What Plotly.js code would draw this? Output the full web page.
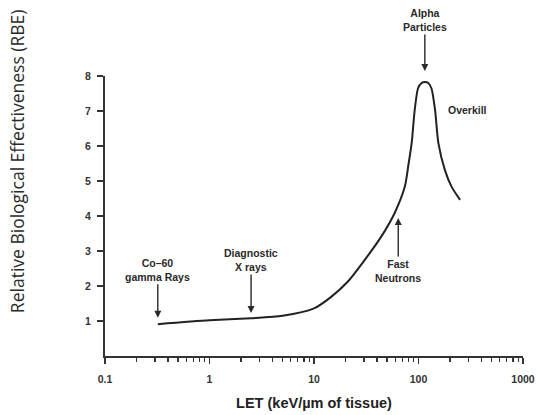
<!DOCTYPE html>
<html>
<head>
<meta charset="utf-8">
<script src="https://cdn.plot.ly/plotly-3.0.1.min.js"></script>
<style>html,body{margin:0;padding:0;background:#fff;}#chart{width:537px;height:415px;}</style>
</head>
<body>
<div id="chart"></div>
<script>
// LET (keV/µm) vs RBE curve
const letValues = [0.32, 1, 2.5, 5, 10, 14.6, 21, 30.5, 44, 59, 74, 80, 86, 92, 99, 107, 115, 124, 133, 144, 155, 179, 207, 250];
const rbeValues = [0.91, 1.02, 1.08, 1.15, 1.36, 1.69, 2.12, 2.74, 3.41, 4.08, 4.84, 5.45, 6.08, 7.03, 7.65, 7.8, 7.83, 7.8, 7.65, 7.03, 6.08, 5.31, 4.84, 4.46];

const xTickVals = [0.1, 1, 10, 100, 1000];
const xTickText = ['0.1', '1', '10', '100', '1000'];
const xMinorVals = [0.2,0.3,0.4,0.5,0.6,0.7,0.8,0.9, 2,3,4,5,6,7,8,9, 20,30,40,50,60,70,80,90, 200,300,400,500,600,700,800,900];
const yTickVals = [1, 2, 3, 4, 5, 6, 7, 8];

// annotation labels with arrows
const labelTexts = ['Co–60<br>gamma Rays', 'Diagnostic<br>X rays', 'Fast<br>Neutrons'];
const labelX = [0.32, 2.5, 64];
const labelY = [1.09, 1.23, 3.94];
const labelAY = [-48, -53, 53];
const alphaText = 'Alpha<br>Particles';
const alphaX = 115;
const overkillText = 'Overkill';
const overkillX = 296;
const overkillY = 7.03;
const yTitleText = 'Relative Biological Effectiveness (RBE)';
const xTitleText = 'LET (keV/µm of tissue)';

const annFont = {family: 'Liberation Sans, Arial, sans-serif', size: 10.5, color: '#2a2a2a'};
const arrowStyle = {arrowhead: 2, arrowsize: 1, arrowwidth: 1.4, arrowcolor: '#2a2a2a'};
const annotations = labelTexts.map((t, i) => Object.assign({
  x: Math.log10(labelX[i]), y: labelY[i], xref: 'x', yref: 'y',
  text: '<b>' + t + '</b>', showarrow: true, ax: 0, ay: labelAY[i],
  font: annFont, align: 'center'
}, arrowStyle));
annotations.push(Object.assign({
  x: Math.log10(alphaX), y: 1.018, xref: 'x', yref: 'paper',
  text: '<b>' + alphaText + '</b>', showarrow: true, ax: 0, ay: -51,
  font: annFont, align: 'center'
}, arrowStyle));
annotations.push({
  x: Math.log10(overkillX), y: overkillY, xref: 'x', yref: 'y',
  text: '<b>' + overkillText + '</b>', showarrow: false, font: annFont
});
annotations.push({
  x: -0.2105, y: 0.696, xref: 'paper', yref: 'paper', textangle: -90,
  xanchor: 'center', yanchor: 'middle',
  text: yTitleText, showarrow: false,
  font: {family: 'Open Sans, sans-serif', size: 17.5, color: '#2a2a2a'}
});

const trace = {
  x: letValues, y: rbeValues, type: 'scatter', mode: 'lines',
  line: {color: '#222', width: 2, shape: 'spline', smoothing: 0.7},
  hoverinfo: 'skip'
};

const tickFont = {family: 'Liberation Sans, Arial, sans-serif', size: 10.5, color: '#333'};
const layout = {
  width: 537, height: 415,
  margin: {l: 105, r: 14, t: 76, b: 59},
  paper_bgcolor: '#fff', plot_bgcolor: '#fff',
  showlegend: false,
  xaxis: {
    type: 'log', range: [-1, 3], showgrid: false, zeroline: false,
    showline: true, linecolor: '#333', linewidth: 2,
    ticks: 'outside', ticklen: 6, tickwidth: 1.5, tickcolor: '#333',
    tickvals: xTickVals, ticktext: xTickText.map(s => '<b>' + s + '</b>'),
    ticklabelstandoff: 6,
    minor: {tickvals: xMinorVals, ticks: 'outside', ticklen: 4, tickwidth: 1.3, tickcolor: '#333', showgrid: false},
    tickfont: tickFont,
    title: {text: '<b>' + xTitleText + '</b>', font: {family: 'Liberation Sans, Arial, sans-serif', size: 14.5, color: '#222'}, standoff: 14}
  },
  yaxis: {
    range: [0, 8], showgrid: false, zeroline: false,
    showline: true, linecolor: '#333', linewidth: 2,
    ticks: 'outside', ticklen: 6, tickwidth: 1.5, tickcolor: '#333',
    tickvals: yTickVals, ticktext: yTickVals.map(v => '<b>' + v + '</b>'),
    ticklabelstandoff: 4,
    tickfont: tickFont
  },
  annotations: annotations
};

Plotly.newPlot('chart', [trace], layout, {staticPlot: true, displayModeBar: false});
</script>
</body>
</html>
